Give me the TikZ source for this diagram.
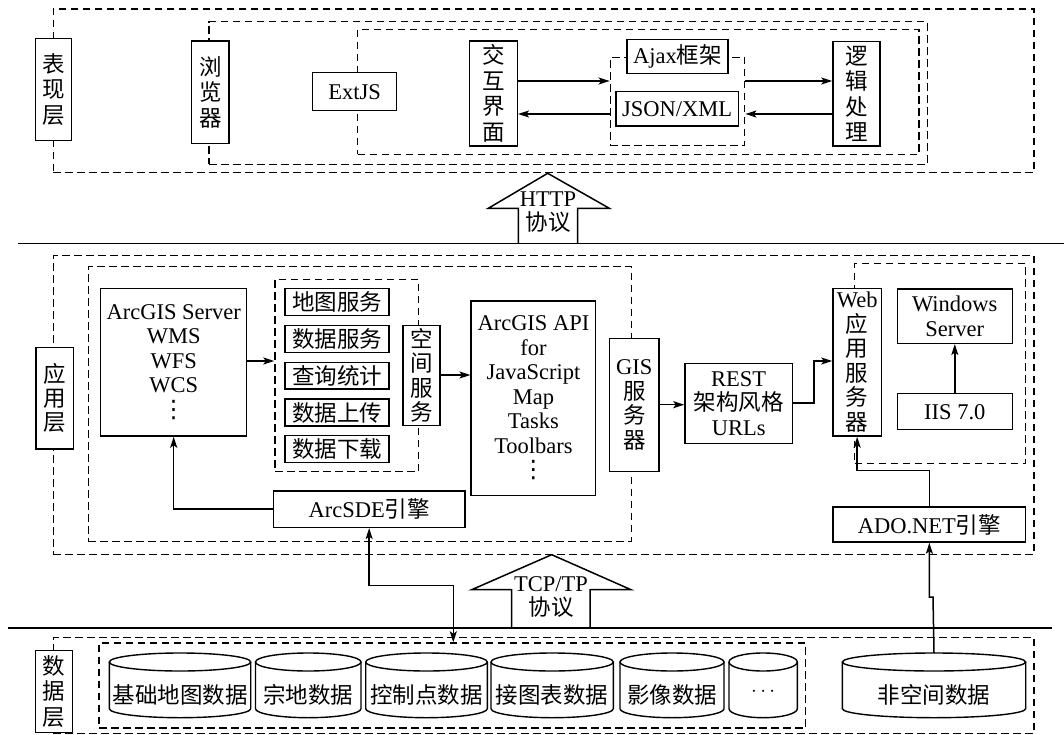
\documentclass[tikz,border=0pt]{standalone}
\usepackage{fontspec}
\setmainfont{Liberation Serif}
\newfontfamily\cjk{Noto Sans CJK SC}
\newfontfamily\dejavu{DejaVu Sans}
\usetikzlibrary{arrows.meta}
\newcommand\zh[1]{{\cjk #1}}
\newcommand\vdts{{\dejavu\fontsize{24}{24}\selectfont ⋮}}
\newcommand\bx[7][]{\node[box,#1,minimum width={(#5-#3)*1pt},minimum height={(#6-#4)*1pt}] (#2) at ({(#3+#5)/2},{(#4+#6)/2}) {#7};}
\newcommand\dbx[5]{\node[dbox,minimum width={(#4-#2)*1pt},minimum height={(#5-#3)*1pt}] (#1) at ({(#2+#4)/2},{(#3+#5)/2}) {};}
\newcommand\dbcyl[4]{%
  \pgfmathsetmacro\cylmid{(#2+#3)/2}\pgfmathsetmacro\cylrad{(#3-#2)/2}%
  \draw[cyl] (#2,662) -- (#2,708.7) arc[start angle=180,end angle=360,x radius=\cylrad pt,y radius=9pt] -- (#3,662);
  \draw[cyl] (\cylmid,662) ellipse[x radius=\cylrad pt,y radius=9pt];
  \node[zh] (#1) at (\cylmid,695) {#4};
  \coordinate (#1top) at (\cylmid,653);}
\begin{document}
\begin{tikzpicture}[x=1pt,y=-1pt,
  every node/.style={font=\fontsize{22.5}{24.5}\selectfont},
  box/.style={draw,line width=1.5pt,fill=white,inner sep=0pt,align=center},
  dbox/.style={draw,line width=1.4pt,dash pattern=on 7.5pt off 4.5pt,inner sep=0pt},
  zh/.style={font=\cjk\fontsize{22.5}{24.5}\selectfont},
  zhv/.style={font=\cjk\fontsize{22.5}{#1}\selectfont},
  zhv/.default=25.5,
  cyl/.style={line width=1.4pt},
  arr/.style={-{Stealth[length=11pt,width=7pt,inset=2.5pt]},line width=1.5pt},
  darr/.style={{Stealth[length=11pt,width=7pt,inset=2.5pt]}-{Stealth[length=11pt,width=7pt,inset=2.5pt]},line width=1.5pt},
  barrow/.style={draw,line width=1.5pt,fill=white}]
\useasboundingbox (0,0) rectangle (1064,735);

% ---------- presentation layer ----------
\dbx{outerT}{53.3}{9}{1034}{172.7}
\dbx{browser}{209}{21.7}{927.3}{164.3}
\dbx{innerT}{357.7}{29.3}{919}{154.3}
\dbx{ajaxd}{610.3}{57.3}{744.7}{145.7}
\bx[zhv]{lbl1}{35.7}{38.3}{71.7}{140.7}{表\\现\\层}
\bx[zhv]{lbl2}{191.7}{41}{229}{143.3}{浏\\览\\器}
\bx{extjs}{312.7}{72.7}{396.7}{110.7}{ExtJS}
\bx[zhv]{jh}{469.3}{41}{517.3}{146}{交\\互\\界\\面}
\bx{ajax}{627}{39.3}{728}{73.3}{Ajax\zh{框架}}
\bx{json}{616}{91.7}{738.3}{126}{JSON/XML}
\bx[zhv]{lj}{833}{41.7}{880}{146}{逻\\辑\\处\\理}

\draw[arr] (jh.east |- 0,81) -- (ajaxd.west |- 0,81);
\draw[arr] (ajaxd.east |- 0,81) -- (lj.west |- 0,81);
\draw[arr] (lj.west |- 0,114) -- (ajaxd.east |- 0,114);
\draw[arr] (ajaxd.west |- 0,114) -- (jh.east |- 0,114);

% HTTP block arrow
\draw[barrow] (518.3,243.7) -- (518.3,208.3) -- (488.3,208.3) -- (547.7,173.3) -- (609.3,208.3) -- (577.7,208.3) -- (577.7,243.7);
\node[align=center] (http) at (548,212) {HTTP\\\zh{协议}};

\draw[line width=1.4pt] (18.3,243.7) -- (1064,243.7);

% ---------- application layer ----------
\dbx{outerM}{53.3}{255.7}{1034}{554.7}
\dbx{appd}{88.3}{266.7}{631.3}{541.3}
\dbx{svcd}{275}{279.3}{418.3}{471.7}
\dbx{webd}{854.7}{263.3}{1025.7}{463.7}
\bx[zhv=24]{lbl3}{36}{347.7}{73.3}{449}{应\\用\\层}
\bx{ags}{100.7}{288.3}{246.7}{436}{ArcGIS Server\\WMS\\WFS\\WCS\\\vdts}
\bx[zh]{s1}{285}{288.3}{389}{315.7}{地图服务}
\bx[zh]{s2}{285}{325.7}{389}{352.7}{数据服务}
\bx[zh]{s3}{285}{362.3}{389}{389}{查询统计}
\bx[zh]{s4}{285}{399}{389}{426}{数据上传}
\bx[zh]{s5}{285}{435.7}{389}{462.7}{数据下载}
\bx[zh]{kj}{403}{325.7}{440}{425.5}{空\\间\\服\\务}
\bx{api}{471.2}{301}{595.7}{495.3}{ArcGIS API\\for\\JavaScript\\Map\\Tasks\\Toolbars\\\vdts}
\bx{gis}{609.7}{338.3}{659}{471.3}{GIS\\\zh{服}\\\zh{务}\\\zh{器}}
\bx{rest}{685}{363.3}{792.3}{443.7}{REST\\\zh{架构风格}\\URLs}
\bx{web}{833}{288.3}{881.3}{436}{Web\\\zh{应}\\\zh{用}\\\zh{服}\\\zh{务}\\\zh{器}}
\bx{win}{897.3}{289}{1012.3}{343.3}{Windows\\Server}
\bx{iis}{897.3}{393.7}{1012.3}{429.7}{IIS 7.0}
\bx{ado}{833}{507}{1025.7}{542}{ADO.NET\zh{引擎}}
\bx{sde}{273.3}{491}{465}{527.3}{ArcSDE\zh{引擎}}

\draw[arr] (ags.east |- 0,361) -- (svcd.west |- 0,361);
\draw[arr] (kj.east |- 0,375) -- (api.west |- 0,375);
\draw[arr] (gis.east |- 0,404.7) -- (rest.west |- 0,404.7);
\draw[arr] (rest.east |- 0,403) -- (814,403) -- (814,361) -- (web.west |- 0,361);
\draw[arr] (iis.north) -- (win.south);
\draw[arr] (sde.west) -- (ags.south |- sde.west) -- (ags.south);
\draw[arr] (ado.north) -- (ado.north |- 0,470.3) -- (web.south |- 0,470.3) -- (web.south);

% TCP block arrow
\draw[barrow] (511.7,628) -- (511.7,589.7) -- (471.7,589.7) -- (551.7,554.7) -- (631,589.7) -- (590,589.7) -- (590,628);
\node[align=center] (tcp) at (551,597) {TCP/TP\\\zh{协议}};

\draw[line width=1.4pt] (8.3,628) -- (1052.3,628);

% ---------- data layer ----------
\dbx{outerB}{53.3}{637.5}{1034}{733.5}
\dbx{datad}{99}{643}{805.7}{728}
\bx[zhv]{lbl4}{35.7}{650.3}{72.7}{732.7}{数\\据\\层}
\dbcyl{c1}{109.3}{250.7}{基础地图数据}
\dbcyl{c2}{255.5}{361}{宗地数据}
\dbcyl{c3}{365.7}{487.3}{控制点数据}
\dbcyl{c4}{491}{613.3}{接图表数据}
\dbcyl{c5}{620}{724}{影像数据}
\dbcyl{c6}{729}{797.3}{\raisebox{7pt}{$\cdots$}}
\dbcyl{c7}{842.3}{1025.7}{非空间数据}

\draw[darr] (sde.south) -- (sde.south |- 0,585.3) -- (453.3,585.3) -- (453.3,0 |- datad.north);
\draw[arr] (c7top) -- (933,597) -- (ado.south |- 0,597) -- (ado.south);
\end{tikzpicture}
\end{document}
